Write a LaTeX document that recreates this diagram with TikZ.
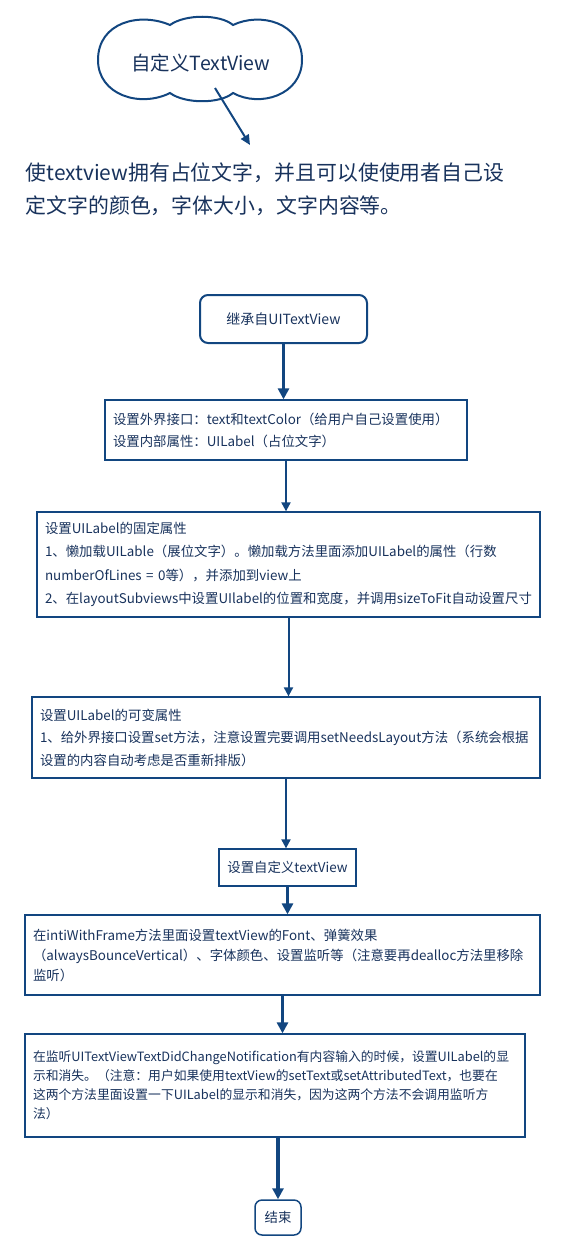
\documentclass[tikz,border=0pt]{standalone}
\usepackage{fontspec}
\setmainfont{Noto Sans CJK SC}
\usepackage{xcolor}
\usetikzlibrary{arrows.meta,positioning,calc}
\definecolor{navy}{RGB}{18,70,128}
\definecolor{ink}{RGB}{24,50,92}

\begin{document}
\begin{tikzpicture}[x=1pt,y=-1pt,
   box/.style={draw=navy,line width=1.3pt,text=ink,inner xsep=8pt,inner ysep=0pt,align=left},
   rbox/.style={draw=navy,line width=2pt,rounded corners=8pt,text=ink,inner sep=0pt,align=center},
   flow/.style={-{Triangle[length=9pt,width=9pt]},navy,line width=2pt},
   bigflow/.style={-{Triangle[length=11pt,width=11pt]},navy,line width=3.5pt},
   small/.style={font=\fontsize{13.4}{#1}\selectfont}]
  \useasboundingbox (0,0) rectangle (561,1252);
  % cloud with title
  \draw[navy,line width=2pt,fill=white] (170,25)
    .. controls (185,14) and (220,14) .. (233,25)
    .. controls (260,12) and (302,22) .. (302,60)
    .. controls (302,95) and (260,108) .. (233,93)
    .. controls (220,104) and (185,104) .. (170,93)
    .. controls (140,108) and (98,95) .. (98,60)
    .. controls (98,22) and (140,12) .. (170,25) -- cycle;
  \node[text=ink,font=\fontsize{19.5}{22}\selectfont] (title) at (201,63) {自定义TextView};
  \coordinate (tail) at (215,88);
  \coordinate (tip) at (250,145);
  \draw[-{Triangle[length=10pt,width=9pt]},navy,line width=2pt] (tail) -- (tip);
  \node[text=ink,align=left,anchor=west,font=\fontsize{20.9}{33}\selectfont] (intro) at (22,189)
    {使textview拥有占位文字，并且可以使使用者自己设\\定文字的颜色，字体大小，文字内容等。};
  % flow boxes
  \node[rbox,minimum width=167pt,minimum height=48pt,font=\fontsize{14}{16}\selectfont] (b1) at (283.5,319) {继承自UITextView};
  \node[box,small=22,text width=346pt,minimum height=60pt] (b2) at (286,430)
    {设置外界接口：text和textColor（给用户自己设置使用）\\设置内部属性：UILabel（占位文字）};
  \node[box,small=23.5,text width=487pt,minimum height=105pt] (b3) at (288.5,564.5)
    {设置UILabel的固定属性\\
     1、懒加载UILable（展位文字）。懒加载方法里面添加UILabel的属性（行数\\
     numberOfLines = 0等），并添加到view上\\
     2、在layoutSubviews中设置UIlabel的位置和宽度，并调用sizeToFit自动设置尺寸};
  \node[box,small=22.5,text width=492pt,minimum height=81pt] (b4) at (286,737.5)
    {设置UILabel的可变属性\\
     1、给外界接口设置set方法，注意设置完要调用setNeedsLayout方法（系统会根据\\
     设置的内容自动考虑是否重新排版）};
  \node[box,small=16,align=center,inner xsep=0pt,minimum width=137pt,minimum height=37pt] (b5) at (287.5,867.5) {设置自定义textView};
  \node[box,small=20,text width=499pt,minimum height=80pt] (b6) at (282.5,955)
    {在intiWithFrame方法里面设置textView的Font、弹簧效果\\
     （alwaysBounceVertical）、字体颜色、设置监听等（注意要再dealloc方法里移除\\
     监听）};
  \node[box,font=\fontsize{12.8}{19}\selectfont,text width=484pt,minimum height=103pt] (b7) at (275,1085.5)
    {在监听UITextViewTextDidChangeNotification有内容输入的时候，设置UILabel的显\\
     示和消失。（注意：用户如果使用textView的setText或setAttributedText，也要在\\
     这两个方法里面设置一下UILabel的显示和消失，因为这两个方法不会调用监听方\\
     法）};
  \node[rbox,line width=1.5pt,rounded corners=7pt,minimum width=46pt,minimum height=35pt,small=16] (end) at (278,1217.5) {结束};
  \draw[bigflow] (b1.south) -- (b1.south |- b2.north);
  \draw[flow] (b2.south) -- (b2.south |- b3.north);
  \draw[flow] (b3.south) -- (b3.south |- b4.north);
  \draw[flow] (b4.south) -- (b4.south |- b5.north);
  \draw[bigflow] (b5.south) -- (b5.south |- b6.north);
  \draw[bigflow] (b6.south) -- (b6.south |- b7.north);
  \draw[bigflow] (end.north |- b7.south) -- (end.north);
\end{tikzpicture}
\end{document}
